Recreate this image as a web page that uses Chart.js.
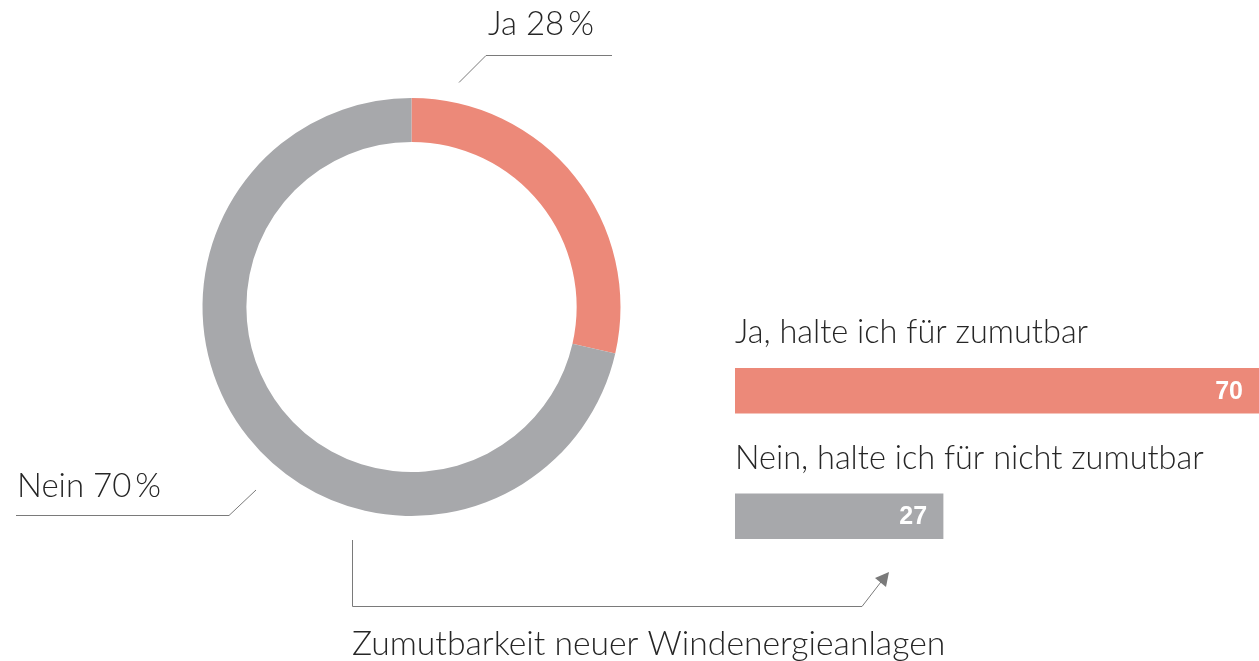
<!DOCTYPE html>
<html lang="de">
  <head>
    <meta charset="UTF-8" />
    <title>Zumutbarkeit neuer Windenergieanlagen</title>
    <style>
      * { margin: 0; padding: 0; box-sizing: border-box; }
      body { width: 1259px; height: 661px; background: #fff; overflow: hidden; position: relative; }
      #donut { position: absolute; left: 0; top: 0; }
      #bars { position: absolute; left: 700px; top: 300px; }
    </style>
  </head>
  <body>
    <canvas id="donut" width="1259" height="661"></canvas>
    <canvas id="bars" width="559" height="300"></canvas>

    <script src="https://cdn.jsdelivr.net/npm/chart.js"></script>
    <script>
      // data
      const donutLabels = ["Ja", "Nein"];
      const donutValues = [28, 70];
      const barLabels = ["Ja, halte ich für zumutbar", "Nein, halte ich für nicht zumutbar"];
      const barValues = [70, 27];
      const title = "Zumutbarkeit neuer Windenergieanlagen";

      const salmon = "#EC8979";
      const grey = "#A7A8AB";
      const lineCol = "#7a7a7a";
      const textCol = "#262626";
      const FONT = "Lato, 'Open Sans', sans-serif";

      // "Ja 28 %" with a narrow gap before the percent sign
      function pctLabel(ctx, label, value, x, y) {
        const head = label + " " + value;
        ctx.fillText(head, x, y);
        ctx.fillText("%", x + ctx.measureText(head).width + 4, y);
      }

      // leader lines, labels and the arrow round the doughnut
      const donutNotes = {
        id: "donutNotes",
        afterDraw(chart) {
          const ctx = chart.ctx;
          ctx.save();
          ctx.strokeStyle = lineCol;
          ctx.lineWidth = 1;

          // Ja label
          ctx.beginPath();
          ctx.moveTo(459, 82.5);
          ctx.lineTo(486, 55.5);
          ctx.lineTo(612, 55.5);
          ctx.stroke();
          // Nein label
          ctx.beginPath();
          ctx.moveTo(256, 490);
          ctx.lineTo(229, 515.5);
          ctx.lineTo(16, 515.5);
          ctx.stroke();
          // arrow
          ctx.beginPath();
          ctx.moveTo(352.5, 540);
          ctx.lineTo(352.5, 606.5);
          ctx.lineTo(862, 606.5);
          ctx.lineTo(884, 578);
          ctx.stroke();
          ctx.fillStyle = lineCol;
          ctx.beginPath();
          ctx.moveTo(889, 572);
          ctx.lineTo(875, 578);
          ctx.lineTo(886, 587);
          ctx.closePath();
          ctx.fill();

          ctx.fillStyle = textCol;
          ctx.font = "300 33px " + FONT;
          ctx.textBaseline = "alphabetic";
          ctx.textAlign = "left";
          pctLabel(ctx, donutLabels[0], donutValues[0], 488, 35);
          pctLabel(ctx, donutLabels[1], donutValues[1], 17, 497);
          ctx.font = "300 33.7px " + FONT;
          ctx.fillText(title, 352, 655);
          ctx.restore();
        },
      };

      new Chart(document.getElementById("donut"), {
        type: "doughnut",
        data: {
          labels: donutLabels,
          datasets: [
            {
              data: donutValues,
              backgroundColor: [salmon, grey],
              borderWidth: 0,
            },
          ],
        },
        options: {
          responsive: false,
          animation: false,
          cutout: "79%",
          layout: { padding: { left: 202, right: 638, top: 98, bottom: 145 } },
          plugins: { legend: { display: false }, tooltip: { enabled: false } },
        },
        plugins: [donutNotes],
      });

      // category names above bars and values inside them
      const barNotes = {
        id: "barNotes",
        afterDatasetsDraw(chart) {
          const ctx = chart.ctx;
          const meta = chart.getDatasetMeta(0);
          const right = chart.chartArea.right;
          ctx.save();
          meta.data.forEach((bar, i) => {
            const top = bar.y - bar.height / 2;
            ctx.fillStyle = textCol;
            ctx.font = "300 32.5px " + FONT;
            ctx.textAlign = "left";
            ctx.textBaseline = "alphabetic";
            ctx.fillText(barLabels[i], 35, top - 25);
            ctx.fillStyle = "#fff";
            ctx.font = "bold 25px 'Liberation Sans', Arial, sans-serif";
            ctx.textAlign = "right";
            ctx.textBaseline = "middle";
            ctx.fillText(String(barValues[i]), Math.min(bar.x, right) - 16, bar.y + 1);
          });
          ctx.restore();
        },
      };

      new Chart(document.getElementById("bars"), {
        type: "bar",
        data: {
          labels: barLabels,
          datasets: [
            {
              data: barValues,
              backgroundColor: [salmon, grey],
              borderWidth: 0,
              barThickness: 45,
            },
          ],
        },
        options: {
          indexAxis: "y",
          responsive: false,
          animation: false,
          layout: { padding: { left: 35, right: 0, top: 28, bottom: 21 } },
          scales: {
            x: { display: false, min: 0, max: 68 },
            y: { display: false },
          },
          plugins: { legend: { display: false }, tooltip: { enabled: false } },
        },
        plugins: [barNotes],
      });
    </script>
  </body>
</html>
